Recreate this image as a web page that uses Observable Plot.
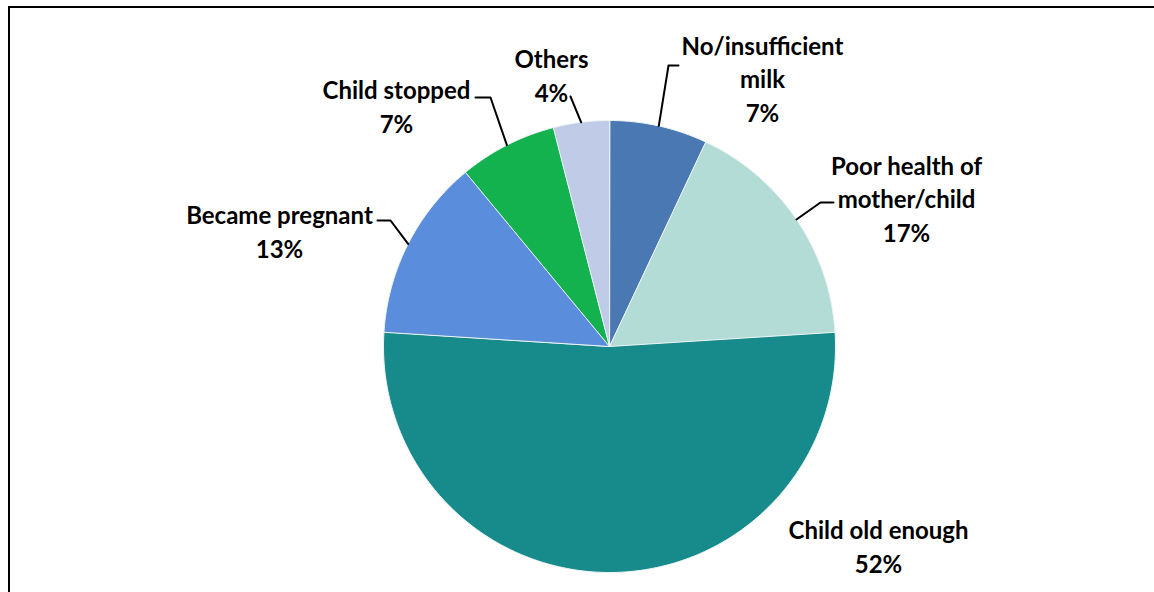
<!DOCTYPE html>
<html>
<head>
<meta charset="utf-8">
<script src="https://cdn.jsdelivr.net/npm/d3@7"></script>
<script src="https://cdn.jsdelivr.net/npm/@observablehq/plot@0.6"></script>
<style>
  html, body { margin: 0; padding: 0; background: #fff; }
  #wrap { position: relative; width: 1154px; height: 592px; overflow: hidden; }
  #frame { position: absolute; left: 8px; top: 6px; width: 1300px; height: 700px;
           border-left: 2px solid #000; border-top: 2px solid #000; box-sizing: border-box; }
  #chart { position: absolute; left: 0; top: 0; }
</style>
</head>
<body>
<div id="wrap"><div id="frame"></div><div id="chart"></div></div>
<script>
// ---- data ----
const categories = ["No/insufficient milk", "Poor health of mother/child", "Child old enough", "Became pregnant", "Child stopped", "Others"];
const values = [7, 17, 52, 13, 7, 4];
const labelLines = ["No/insufficient\nmilk", "Poor health of\nmother/child", "Child old enough", "Became pregnant", "Child stopped", "Others"];
const colors = ["#4a78b2", "#b4dcd7", "#178b8b", "#5a8edc", "#14b24e", "#c0cbe8"];

// ---- layout (pixels) ----
const W = 1154, H = 592;
const cx = 609, cy = 346, r = 226;
// label block centres, leader elbow and stub end (null = no leader)
const labelPos = [
  {x: 762, y: 77, elbow: [668, 65], stub: [678, 65]},
  {x: 906, y: 197, elbow: [820, 202], stub: [833, 202]},
  {x: 878, y: 545, elbow: null, stub: null},
  {x: 279, y: 230, elbow: [390, 220], stub: [377, 220]},
  {x: 396, y: 105, elbow: [490, 97], stub: [475, 97]},
  {x: 551, y: 74, elbow: [570, 96], stub: null}
];

const total = d3.sum(values);
let cum = 0;
const slices = values.map((v, i) => {
  const a0 = cum / total * 2 * Math.PI;
  cum += v;
  const a1 = cum / total * 2 * Math.PI;
  return {cat: categories[i], value: v, a0, a1, i};
});

const pt = (a, rad) => [cx + rad * Math.sin(a), cy - rad * Math.cos(a)];

const slicePts = [];
for (const s of slices) {
  slicePts.push({cat: s.cat, x: cx, y: cy});
  const n = Math.max(2, Math.ceil((s.a1 - s.a0) * 180 / Math.PI));
  for (let k = 0; k <= n; k++) {
    const a = s.a0 + (s.a1 - s.a0) * k / n;
    const [x, y] = pt(a, r);
    slicePts.push({cat: s.cat, x, y});
  }
}

const leaderPts = [];
const labels = [];
slices.forEach((s, i) => {
  const L = labelPos[i];
  labels.push({x: L.x, y: L.y, text: labelLines[i] + "\n" + values[i] + "%"});
  if (L.elbow) {
    const [x0, y0] = pt((s.a0 + s.a1) / 2, r);
    leaderPts.push({id: i, x: x0, y: y0});
    leaderPts.push({id: i, x: L.elbow[0], y: L.elbow[1]});
    if (L.stub) leaderPts.push({id: i, x: L.stub[0], y: L.stub[1]});
  }
});

const chart = Plot.plot({
  width: W,
  height: H,
  margin: 0,
  style: {background: "transparent", overflow: "visible"},
  x: {domain: [0, W], range: [0, W], axis: null},
  y: {domain: [0, H], range: [0, H], axis: null},
  color: {type: "ordinal", domain: categories, range: colors},
  marks: [
    Plot.line(slicePts, {x: "x", y: "y", z: "cat", fill: "cat", stroke: "#eef4f4", strokeWidth: 1, curve: "linear-closed"}),
    Plot.line(leaderPts, {x: "x", y: "y", z: "id", stroke: "#000", strokeWidth: 2}),
    Plot.text(labels, {x: "x", y: "y", text: "text", fontSize: 24, fontWeight: "bold",
      fontFamily: "Lato, 'Open Sans', sans-serif", lineHeight: 1.4, fill: "#000", textAnchor: "middle"})
  ]
});
document.getElementById("chart").appendChild(chart);
</script>
</body>
</html>
